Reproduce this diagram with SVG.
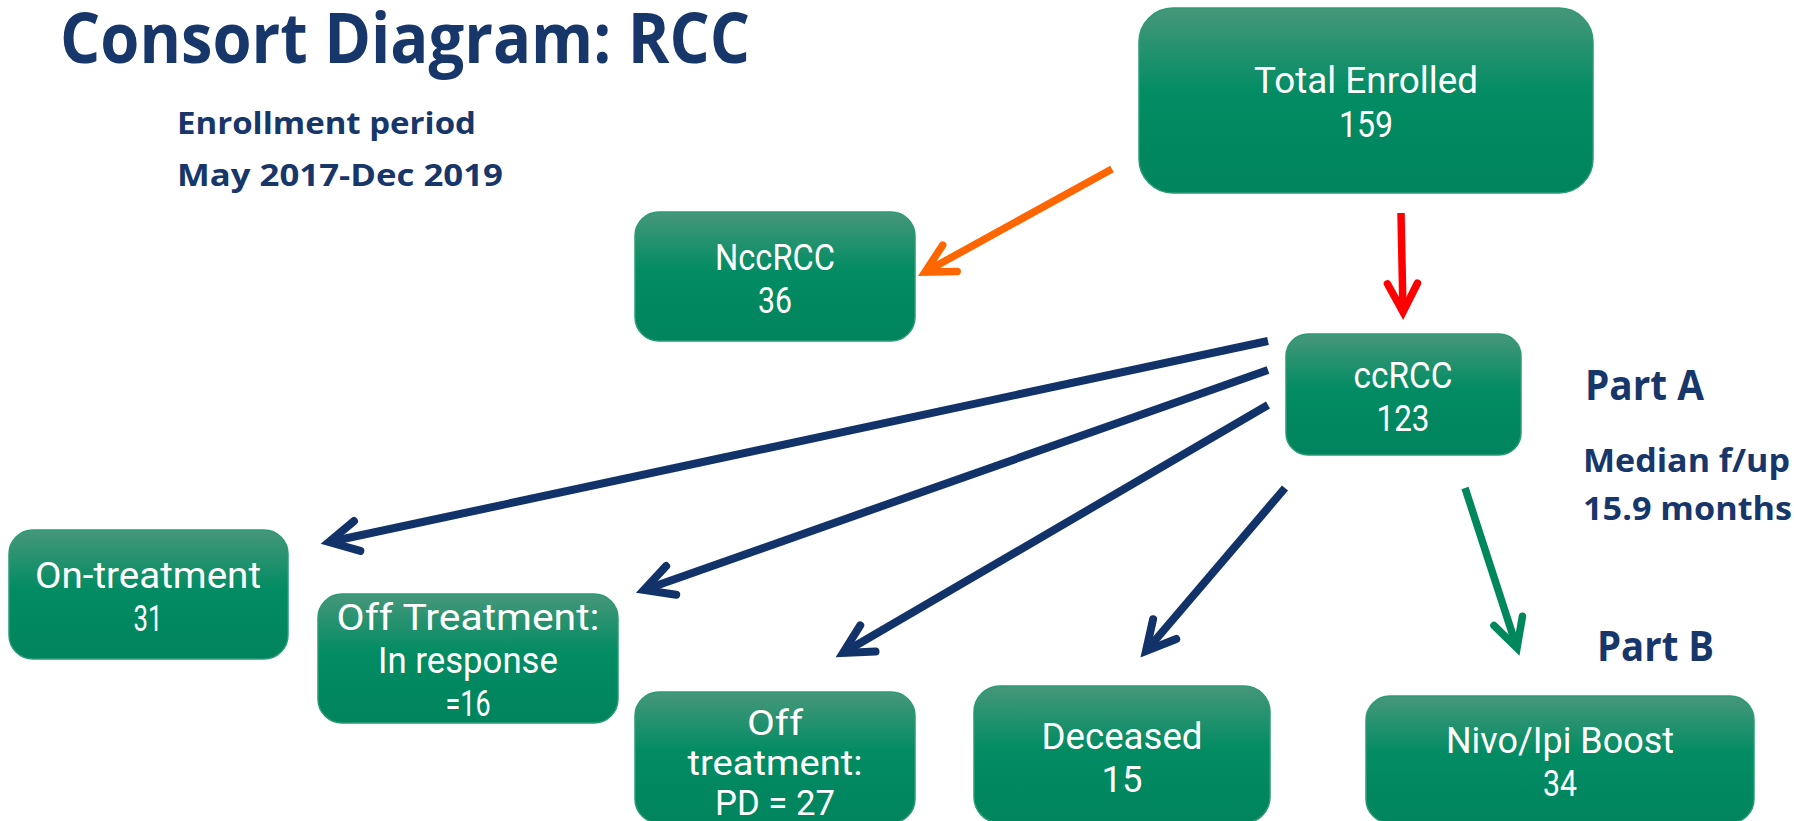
<svg xmlns="http://www.w3.org/2000/svg" width="1794" height="821" viewBox="0 0 1794 821">
  <defs>
    <linearGradient id="boxFill" x1="0" y1="0" x2="0" y2="1">
      <stop offset="0" stop-color="#46977a"/>
      <stop offset="0.45" stop-color="#038c63"/>
      <stop offset="1" stop-color="#00845e"/>
    </linearGradient>
    <marker id="head-blue" viewBox="-6 -4 8 8" refX="0" refY="0" markerWidth="8" markerHeight="8" orient="auto" markerUnits="strokeWidth" overflow="visible">
      <path d="M-3.6,-1.9 L0,0 L-3.6,1.9" fill="none" stroke="#12336a" stroke-width="1" stroke-linecap="round" stroke-linejoin="miter"/>
    </marker>
    <marker id="head-orange" viewBox="-6 -4 8 8" refX="0" refY="0" markerWidth="8" markerHeight="8" orient="auto" markerUnits="strokeWidth" overflow="visible">
      <path d="M-3.8,-2 L0,0 L-3.8,2" fill="none" stroke="#ff6600" stroke-width="1" stroke-linecap="round" stroke-linejoin="miter"/>
    </marker>
    <marker id="head-red" viewBox="-6 -4 8 8" refX="0" refY="0" markerWidth="8" markerHeight="8" orient="auto" markerUnits="strokeWidth" overflow="visible">
      <path d="M-3.8,-2 L0,0 L-3.8,2" fill="none" stroke="#ff0000" stroke-width="1" stroke-linecap="round" stroke-linejoin="miter"/>
    </marker>
    <marker id="head-green" viewBox="-6 -4 8 8" refX="0" refY="0" markerWidth="8" markerHeight="8" orient="auto" markerUnits="strokeWidth" overflow="visible">
      <path d="M-3.8,-2 L0,0 L-3.8,2" fill="none" stroke="#00875c" stroke-width="1" stroke-linecap="round" stroke-linejoin="miter"/>
    </marker>
  </defs>
  <style>
    .box { fill: url(#boxFill); stroke: #2b9a75; stroke-width: 1.5; }
    .lbl { font-family: Roboto, "Liberation Sans", sans-serif; font-weight: 400; font-size: 37px; fill: #ffffff; text-anchor: middle; }
    .tight { font-size: 35px; }
    .head { font-family: "Open Sans", "Liberation Sans", sans-serif; font-weight: 700; fill: #17366a; }
    .conn { fill: none; stroke-linecap: butt; }
    .blue { stroke: #12336a; stroke-width: 8; marker-end: url(#head-blue); }
    .orange { stroke: #ff6600; stroke-width: 7.5; marker-end: url(#head-orange); }
    .red { stroke: #ff0000; stroke-width: 7.5; marker-end: url(#head-red); }
    .green { stroke: #00875c; stroke-width: 7.5; marker-end: url(#head-green); }
  </style>
  <rect width="1794" height="821" fill="#ffffff"/>

  <!-- headings and side notes -->
  <text class="head" x="60" y="63" font-size="70" textLength="690" lengthAdjust="spacingAndGlyphs">Consort Diagram: RCC</text>
  <text class="head" x="177" y="134" font-size="31" textLength="299" lengthAdjust="spacingAndGlyphs">Enrollment period</text>
  <text class="head" x="177" y="186" font-size="31" textLength="326" lengthAdjust="spacingAndGlyphs">May 2017-Dec 2019</text>
  <text class="head" x="1585" y="400" font-size="41" textLength="119" lengthAdjust="spacingAndGlyphs">Part A</text>
  <text class="head" x="1583" y="472" font-size="33" textLength="207" lengthAdjust="spacingAndGlyphs">Median f/up</text>
  <text class="head" x="1583" y="520" font-size="33" textLength="209" lengthAdjust="spacingAndGlyphs">15.9 months</text>
  <text class="head" x="1597" y="661" font-size="41" textLength="117" lengthAdjust="spacingAndGlyphs">Part B</text>

  <!-- connectors -->
  <g id="connectors">
    <line class="conn orange" x1="1112" y1="169" x2="925" y2="272"/>
    <line class="conn red" x1="1401" y1="213" x2="1403" y2="312"/>
    <line class="conn blue" x1="1268" y1="341" x2="329" y2="542"/>
    <line class="conn blue" x1="1268" y1="370" x2="644" y2="590"/>
    <line class="conn blue" x1="1268" y1="405" x2="843" y2="653"/>
    <line class="conn blue" x1="1285" y1="488" x2="1146" y2="651"/>
    <line class="conn green" x1="1465" y1="488" x2="1517" y2="648"/>
  </g>

  <!-- nodes -->
  <g id="total-enrolled">
    <rect class="box" x="1139" y="8" width="454" height="185" rx="34"/>
    <text class="lbl" x="1366" y="93" textLength="224" lengthAdjust="spacingAndGlyphs">Total Enrolled</text>
    <text class="lbl" x="1366" y="137" textLength="54" lengthAdjust="spacingAndGlyphs">159</text>
  </g>
  <g id="nccrcc">
    <rect class="box" x="635" y="212" width="280" height="129" rx="24"/>
    <text class="lbl" x="775" y="270" textLength="120" lengthAdjust="spacingAndGlyphs">NccRCC</text>
    <text class="lbl" x="775" y="313" textLength="34" lengthAdjust="spacingAndGlyphs">36</text>
  </g>
  <g id="ccrcc">
    <rect class="box" x="1286" y="334" width="235" height="121" rx="22"/>
    <text class="lbl" x="1403" y="388" textLength="99" lengthAdjust="spacingAndGlyphs">ccRCC</text>
    <text class="lbl" x="1403" y="431" textLength="53" lengthAdjust="spacingAndGlyphs">123</text>
  </g>
  <g id="on-treatment">
    <rect class="box" x="9" y="530" width="279" height="129" rx="24"/>
    <text class="lbl" x="148" y="588" textLength="226" lengthAdjust="spacingAndGlyphs">On-treatment</text>
    <text class="lbl" x="148" y="631" textLength="29" lengthAdjust="spacingAndGlyphs">31</text>
  </g>
  <g id="off-response">
    <rect class="box" x="318" y="594" width="300" height="129" rx="24"/>
    <text class="lbl" x="468" y="630" textLength="263" lengthAdjust="spacingAndGlyphs">Off Treatment:</text>
    <text class="lbl" x="468" y="673" textLength="180" lengthAdjust="spacingAndGlyphs">In response</text>
    <text class="lbl" x="468" y="716" textLength="45" lengthAdjust="spacingAndGlyphs">=16</text>
  </g>
  <g id="off-pd">
    <rect class="box" x="635" y="692" width="280" height="131" rx="24"/>
    <text class="lbl tight" x="775" y="735" textLength="56" lengthAdjust="spacingAndGlyphs">Off</text>
    <text class="lbl tight" x="775" y="775" textLength="175" lengthAdjust="spacingAndGlyphs">treatment:</text>
    <text class="lbl tight" x="775" y="815" textLength="120" lengthAdjust="spacingAndGlyphs">PD = 27</text>
  </g>
  <g id="deceased">
    <rect class="box" x="974" y="686" width="296" height="137" rx="26"/>
    <text class="lbl" x="1122" y="749" textLength="161" lengthAdjust="spacingAndGlyphs">Deceased</text>
    <text class="lbl" x="1122" y="792" textLength="41" lengthAdjust="spacingAndGlyphs">15</text>
  </g>
  <g id="nivo-ipi-boost">
    <rect class="box" x="1366" y="696" width="388" height="127" rx="24"/>
    <text class="lbl" x="1560" y="753" textLength="228" lengthAdjust="spacingAndGlyphs">Nivo/Ipi Boost</text>
    <text class="lbl" x="1560" y="796" textLength="34" lengthAdjust="spacingAndGlyphs">34</text>
  </g>
</svg>
